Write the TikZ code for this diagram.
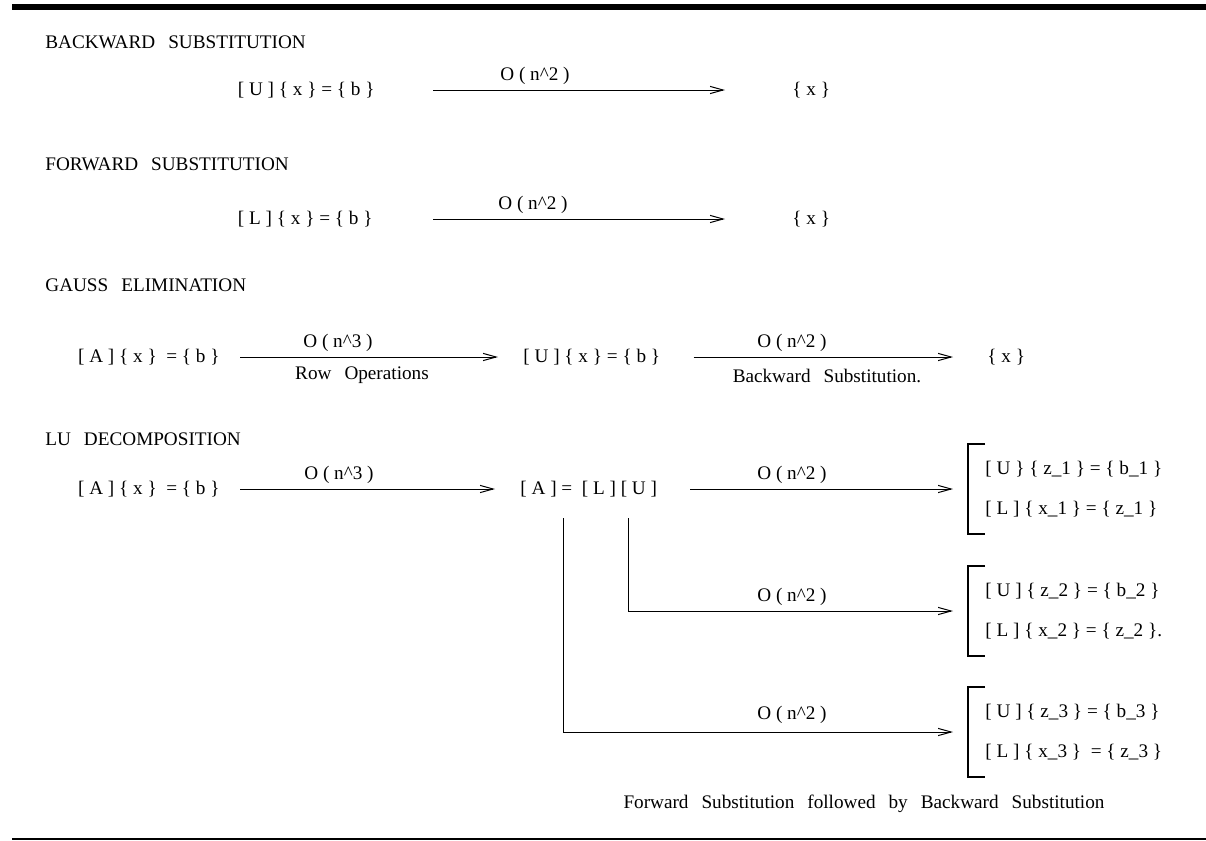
\documentclass[tikz,border=0pt]{standalone}
\usepackage{fontspec}
\setmainfont{Liberation Serif}
\usetikzlibrary{calc}
\usetikzlibrary{arrows.meta}
\newcommand{\wordfont}{\fontsize{9.6}{11.5}\selectfont\spaceskip 6.5pt\relax}
\tikzset{>={Straight Barb[length=6.5pt,width=3.6pt]}}
\tikzstyle{lbl} = [draw=none, inner sep = 0, font=\fontsize{9.6}{11.5}\selectfont]
\tikzstyle{words} = [lbl, font=\wordfont]
\tikzstyle{grp} = [lbl, align=left, anchor=west, minimum height=44.5pt, inner xsep=8.5pt]
\tikzstyle{brk} = [-, line width=1pt]
\tikzstyle{arr} = [->, line width=0.5pt]

\begin{document}
\begin{tikzpicture}[x=0.5pt, y=-0.5pt]
\useasboundingbox (0,0) rectangle (1206,841);
\draw [line width=3pt] (12,7) -- (1206,7);
\draw [line width=1pt] (12,839) -- (1206,839);
% headings
\node [words, anchor=west] (hBS) at (45, 42) {BACKWARD SUBSTITUTION};
\node [words, anchor=west] (hFS) at (45, 164) {FORWARD SUBSTITUTION};
\node [words, anchor=west] (hGE) at (45, 285) {GAUSS ELIMINATION};
\node [words, anchor=west] (hLU) at (45, 439) {LU DECOMPOSITION};
% backward substitution
\node [lbl, anchor=east] (UxB) at (375, 90) {[ U ] \{ x \} = \{ b \}};
\node [lbl, anchor=west] (xB) at (792, 90) {\{ x \}};
\node [lbl] (oB) at (535, 76) {O ( n\textasciicircum2 )};
\draw [arr, shorten <= 29pt, shorten >= 33.5pt] (UxB) to (xB);
% forward substitution
\node [lbl, anchor=east] (LxF) at (373, 219) {[ L ] \{ x \} = \{ b \}};
\node [lbl, anchor=west] (xF) at (792, 219) {\{ x \}};
\node [lbl] (oF) at (533, 205) {O ( n\textasciicircum2 )};
\draw [arr, shorten <= 30pt, shorten >= 33.5pt] (LxF) to (xF);
% gauss elimination
\node [lbl, anchor=east] (AxG) at (220, 357) {[ A ] \{ x \}\ \ = \{ b \}};
\node [lbl, anchor=west] (UxG) at (523, 357) {[ U ] \{ x \} = \{ b \}};
\node [lbl, anchor=west] (xG) at (987, 357) {\{ x \}};
\node [lbl] (oG1) at (338, 343) {O ( n\textasciicircum3 )};
\node [words] (rowop) at (362, 375) {Row Operations};
\node [lbl] (oG2) at (792, 343) {O ( n\textasciicircum2 )};
\node [words] (bsub) at (827, 376) {Backward Substitution.};
\draw [arr, shorten <= 10pt, shorten >= 12.5pt] (AxG) to (UxG);
\draw [arr, shorten <= 16.5pt, shorten >= 17pt] (UxG) to (xG);
% lu decomposition
\node [lbl, anchor=east] (AxL) at (220, 489) {[ A ] \{ x \}\ \ = \{ b \}};
\node [lbl, anchor=west] (ALU) at (520, 489) {[ A ] =\ \ [ L ] [ U ]};
\node [lbl] (oL1) at (339, 475) {O ( n\textasciicircum3 )};
\node [grp] (g1) at (968, 489) {[ U \} \{ z\_1 \} = \{ b\_1 \}\\[8.5pt][ L ] \{ x\_1 \} = \{ z\_1 \}};
\node [grp] (g2) at (968, 611) {[ U ] \{ z\_2 \} = \{ b\_2 \}\\[8.5pt][ L ] \{ x\_2 \} = \{ z\_2 \}.};
\node [grp] (g3) at (968, 732) {[ U ] \{ z\_3 \} = \{ b\_3 \}\\[8.5pt][ L ] \{ x\_3 \}\ \ = \{ z\_3 \}};
\node [lbl] (oL2) at (792, 475) {O ( n\textasciicircum2 )};
\node [lbl] (oL3) at (792, 597) {O ( n\textasciicircum2 )};
\node [lbl] (oL4) at (792, 715) {O ( n\textasciicircum2 )};
\coordinate (vL) at (563, 518);
\coordinate (vU) at (628, 518);
\draw [arr, shorten <= 10pt, shorten >= 12.5pt] (AxL) to (ALU);
\draw [arr, shorten <= 16.5pt, shorten >= 7.5pt] (ALU) to (g1);
\draw [arr, shorten >= 7.5pt] (vU) |- (g2);
\draw [arr, shorten >= 7.5pt] (vL) |- (g3);
\foreach \g in {g1, g2, g3}
  \draw [brk] ($(\g.north west)+(17,0)$) -- (\g.north west) -- (\g.south west) -- ($(\g.south west)+(17,0)$);
\node [words] (foot) at (864, 804) {Forward Substitution followed by Backward Substitution};
\end{tikzpicture}
\end{document}
